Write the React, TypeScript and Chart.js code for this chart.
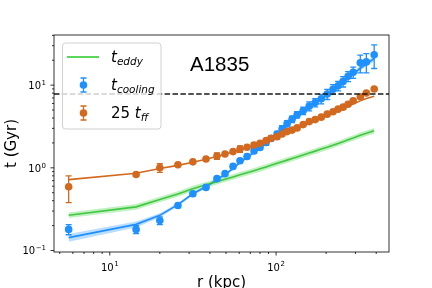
import React, { useEffect, useRef } from "react";
import { Chart, registerables } from "chart.js";

Chart.register(...registerables);

// ---- data ----
const radii = [5.66, 14.4, 20.0, 25.7, 31.6, 37.9, 44.1, 49.3, 55.1, 60.7, 66.9, 73.7, 80.1, 87.1, 93.3, 101.4, 108.7, 116.5, 124.8, 133.8, 145.5, 158.2, 171.9, 186.9, 203, 220, 236, 253, 271, 291, 321, 349, 389];

const tCooling = [0.18, 0.18, 0.23, 0.35, 0.485, 0.58, 0.74, 0.85, 1.04, 1.22, 1.37, 1.6, 1.76, 2.02, 2.26, 2.56, 2.94, 3.42, 3.88, 4.39, 4.91, 5.57, 6.17, 6.85, 7.8, 8.93, 9.83, 11.1, 12.8, 14.3, 18.6, 19.1, 23.3];
const tCoolingErr = [0.025, 0.02, 0.025, 0.02, 0.03, 0.03, 0.04, 0.04, 0.06, 0.07, 0.08, 0.1, 0.1, 0.15, 0.15, 0.2, 0.3, 0.3, 0.35, 0.4, 0.5, 0.7, 0.7, 0.9, 1.1, 1.2, 1.3, 1.6, 1.8, 2.2, 4.5, 5, 7.4];

const tFF25 = [0.59, 0.83, 1.0, 1.09, 1.18, 1.28, 1.39, 1.47, 1.57, 1.69, 1.77, 1.89, 1.98, 2.13, 2.28, 2.38, 2.56, 2.74, 2.86, 3.04, 3.33, 3.62, 3.83, 4.1, 4.46, 4.77, 5.12, 5.42, 5.88, 6.48, 7.25, 8.03, 8.98];
const tFF25Err = [0.21, 0.03, 0.12, 0.04, 0.04, 0.04, 0.12, 0.04, 0.05, 0.15, 0.06, 0.12, 0.07, 0.08, 0.09, 0.15, 0.1, 0.1, 0.11, 0.2, 0.13, 0.14, 0.15, 0.16, 0.18, 0.19, 0.2, 0.22, 0.24, 0.26, 0.3, 0.32, 0.35];

const coolModel = [0.143, 0.207, 0.266, 0.358, 0.485, 0.59, 0.72, 0.83, 0.98, 1.16, 1.34, 1.54, 1.74, 1.97, 2.2, 2.5, 2.85, 3.25, 3.7, 4.15, 4.7, 5.3, 6.0, 6.8, 7.7, 8.8, 9.8, 10.9, 12.2, 13.6, 16.0, 18.0, 21.0];
const coolBandLo = [0.128, 0.19, 0.25, 0.342, 0.465, 0.565, 0.69, 0.795, 0.94, 1.11, 1.28, 1.47, 1.66, 1.88, 2.1, 2.39, 2.72, 3.1, 3.53, 3.96, 4.48, 5.05, 5.72, 6.48, 7.33, 8.37, 9.32, 10.35, 11.55, 12.85, 15.0, 16.8, 19.4];
const coolBandHi = [0.158, 0.224, 0.283, 0.375, 0.505, 0.615, 0.75, 0.865, 1.02, 1.21, 1.4, 1.61, 1.82, 2.06, 2.3, 2.61, 2.98, 3.4, 3.87, 4.34, 4.92, 5.56, 6.3, 7.13, 8.08, 9.25, 10.3, 11.5, 12.9, 14.4, 17.1, 19.3, 22.7];

const eddyModel = [0.267, 0.337, 0.414, 0.482, 0.56, 0.623, 0.681, 0.728, 0.776, 0.823, 0.87, 0.922, 0.972, 1.025, 1.072, 1.133, 1.185, 1.239, 1.296, 1.355, 1.432, 1.51, 1.592, 1.684, 1.775, 1.877, 1.968, 2.07, 2.18, 2.29, 2.47, 2.62, 2.8];
const eddyBandLo = [0.247, 0.312, 0.383, 0.446, 0.518, 0.576, 0.63, 0.673, 0.718, 0.761, 0.805, 0.853, 0.899, 0.948, 0.992, 1.048, 1.096, 1.146, 1.199, 1.253, 1.325, 1.397, 1.473, 1.558, 1.642, 1.736, 1.82, 1.915, 2.017, 2.118, 2.285, 2.424, 2.59];
const eddyBandHi = [0.288, 0.364, 0.447, 0.521, 0.605, 0.673, 0.735, 0.786, 0.838, 0.889, 0.94, 0.996, 1.05, 1.107, 1.158, 1.224, 1.28, 1.338, 1.4, 1.463, 1.547, 1.631, 1.719, 1.819, 1.917, 2.027, 2.125, 2.236, 2.354, 2.473, 2.668, 2.83, 3.024];

const ffModel = [0.72, 0.86, 0.98, 1.07, 1.17, 1.27, 1.37, 1.46, 1.56, 1.66, 1.76, 1.87, 1.98, 2.1, 2.22, 2.36, 2.5, 2.65, 2.8, 2.98, 3.2, 3.45, 3.7, 3.98, 4.3, 4.62, 4.92, 5.24, 5.58, 5.92, 6.45, 6.9, 7.35];

const dashedLevel = 7.8;
const titleText = "A1835";

const xMajorTicks = [10, 100];
const xMajorExp = ["1", "2"];
const xMinorTicks = [5, 6, 7, 8, 9, 20, 30, 40, 50, 60, 70, 80, 90, 200, 300, 400];
const yMajorTicks = [0.1, 1, 10];
const yMajorExp = ["\u22121", "0", "1"];
const yMinorTicks = [0.2, 0.3, 0.4, 0.5, 0.6, 0.7, 0.8, 0.9, 2, 3, 4, 5, 6, 7, 8, 9, 20, 30, 40];

const BLUE = "#1E90FF";
const ORANGE = "#D2691E";
const GREEN = "rgba(50,195,50,0.9)";
const GREEN_LEGEND = "rgba(50,205,50,0.8)";
const FONT = '"DejaVu Sans", sans-serif';

function drawErrBar(ctx: CanvasRenderingContext2D, x: number, y1: number, y2: number, color: string) {
  ctx.strokeStyle = color;
  ctx.lineWidth = 1.3;
  ctx.beginPath();
  ctx.moveTo(x, y1); ctx.lineTo(x, y2);
  ctx.moveTo(x - 3, y1); ctx.lineTo(x + 3, y1);
  ctx.moveTo(x - 3, y2); ctx.lineTo(x + 3, y2);
  ctx.stroke();
}

const errorBarPlugin = {
  id: "errbars",
  beforeDatasetDraw(chart: any, args: any) {
    const ds = chart.data.datasets[args.index];
    if (!ds.errValues) return;
    const ctx = chart.ctx;
    const xs = chart.scales.x, ys = chart.scales.y;
    ctx.save();
    ds.data.forEach((p: any, i: number) => {
      const e = ds.errValues[i];
      const px = xs.getPixelForValue(p.x);
      const lo = Math.max(p.y - e, 0.05);
      drawErrBar(ctx, px, ys.getPixelForValue(p.y + e), ys.getPixelForValue(lo), ds.pointBackgroundColor);
    });
    ctx.restore();
  },
};

function drawPow(ctx: CanvasRenderingContext2D, exp: string, x: number, y: number, align: "center" | "right") {
  ctx.font = `10px ${FONT}`;
  const w1 = ctx.measureText("10").width;
  ctx.font = `7px ${FONT}`;
  const w2 = ctx.measureText(exp).width;
  const total = w1 + w2 + 0.5;
  const left = align === "center" ? x - total / 2 : x - total;
  ctx.textAlign = "left";
  ctx.textBaseline = "alphabetic";
  ctx.font = `10px ${FONT}`;
  ctx.fillText("10", left, y);
  ctx.font = `7px ${FONT}`;
  ctx.fillText(exp, left + w1 + 0.5, y - 4.3);
}

function drawSubText(ctx: CanvasRenderingContext2D, x: number, y: number, pre: string, main: string, sub: string) {
  ctx.textAlign = "left";
  ctx.textBaseline = "alphabetic";
  let cx = x;
  if (pre) {
    ctx.font = `15px ${FONT}`;
    ctx.fillText(pre, cx, y);
    cx += ctx.measureText(pre).width;
  }
  ctx.font = `italic 15px ${FONT}`;
  ctx.fillText(main, cx, y);
  cx += ctx.measureText(main).width;
  ctx.font = `italic 10.5px ${FONT}`;
  ctx.fillText(sub, cx, y + 3.3);
}

const decorPlugin = {
  id: "decor",
  afterDatasetsDraw(chart: any) {
    const { ctx, chartArea: ca, scales } = chart;
    const ys = scales.y;
    ctx.save();
    // dashed horizontal line
    const yd = ys.getPixelForValue(dashedLevel);
    ctx.strokeStyle = "#1a1a1a";
    ctx.lineWidth = 1.6;
    ctx.setLineDash([5.5, 2.4]);
    ctx.beginPath();
    ctx.moveTo(ca.left, yd);
    ctx.lineTo(ca.right, yd);
    ctx.stroke();
    ctx.setLineDash([]);

    // legend box
    const bx = 62.5, by = 43, bw = 98.5, bh = 86, r = 3;
    ctx.beginPath();
    ctx.moveTo(bx + r, by);
    ctx.lineTo(bx + bw - r, by);
    ctx.quadraticCurveTo(bx + bw, by, bx + bw, by + r);
    ctx.lineTo(bx + bw, by + bh - r);
    ctx.quadraticCurveTo(bx + bw, by + bh, bx + bw - r, by + bh);
    ctx.lineTo(bx + r, by + bh);
    ctx.quadraticCurveTo(bx, by + bh, bx, by + bh - r);
    ctx.lineTo(bx, by + r);
    ctx.quadraticCurveTo(bx, by, bx + r, by);
    ctx.closePath();
    ctx.fillStyle = "rgba(255,255,255,0.8)";
    ctx.fill();
    ctx.strokeStyle = "#d0d0d0";
    ctx.lineWidth = 1;
    ctx.stroke();

    // entry 1: green line
    ctx.strokeStyle = GREEN_LEGEND;
    ctx.lineWidth = 2;
    ctx.beginPath();
    ctx.moveTo(67, 57);
    ctx.lineTo(99, 57);
    ctx.stroke();
    // entry 2: blue marker with error bar
    drawErrBar(ctx, 83.5, 78, 92, BLUE);
    ctx.fillStyle = BLUE;
    ctx.beginPath(); ctx.arc(83.5, 85, 3.8, 0, Math.PI * 2); ctx.fill();
    // entry 3: orange marker
    drawErrBar(ctx, 83.5, 106, 120, ORANGE);
    ctx.fillStyle = ORANGE;
    ctx.beginPath(); ctx.arc(83.5, 113, 3.8, 0, Math.PI * 2); ctx.fill();

    ctx.fillStyle = "#000";
    drawSubText(ctx, 111, 62, "", "t", "eddy");
    drawSubText(ctx, 111, 90, "", "t", "cooling");
    drawSubText(ctx, 111, 118, "25 ", "t", "ff");

    // title text
    ctx.font = `20.5px "Liberation Sans", Arial, sans-serif`;
    ctx.textAlign = "left";
    ctx.textBaseline = "alphabetic";
    ctx.fillText(titleText, 190, 71);
    ctx.restore();
  },
  afterDraw(chart: any) {
    const { ctx, chartArea: ca, scales } = chart;
    const xs = scales.x, ys = scales.y;
    ctx.save();
    ctx.strokeStyle = "#000";
    ctx.lineWidth = 0.8;
    ctx.strokeRect(ca.left, ca.top, ca.right - ca.left, ca.bottom - ca.top);
    ctx.beginPath();
    xMinorTicks.forEach((v) => {
      const p = xs.getPixelForValue(v);
      ctx.moveTo(p, ca.bottom); ctx.lineTo(p, ca.bottom + 2);
    });
    xMajorTicks.forEach((v) => {
      const p = xs.getPixelForValue(v);
      ctx.moveTo(p, ca.bottom); ctx.lineTo(p, ca.bottom + 3.5);
    });
    yMinorTicks.forEach((v) => {
      const p = ys.getPixelForValue(v);
      ctx.moveTo(ca.left, p); ctx.lineTo(ca.left - 2, p);
    });
    yMajorTicks.forEach((v) => {
      const p = ys.getPixelForValue(v);
      ctx.moveTo(ca.left, p); ctx.lineTo(ca.left - 3.5, p);
    });
    ctx.stroke();

    ctx.fillStyle = "#000";
    xMajorTicks.forEach((v, i) => {
      drawPow(ctx, xMajorExp[i], xs.getPixelForValue(v), 270.5, "center");
    });
    yMajorTicks.forEach((v, i) => {
      drawPow(ctx, yMajorExp[i], 46, ys.getPixelForValue(v) + 4, "right");
    });

    // axis labels
    ctx.font = `15px ${FONT}`;
    ctx.textAlign = "center";
    ctx.textBaseline = "alphabetic";
    ctx.fillText("r (kpc)", (ca.left + ca.right) / 2, 287);
    ctx.save();
    ctx.translate(16, (ca.top + ca.bottom) / 2);
    ctx.rotate(-Math.PI / 2);
    ctx.fillText("t (Gyr)", 0, 0);
    ctx.restore();
    ctx.restore();
  },
};

export default function App() {
  const ref = useRef<HTMLCanvasElement>(null);
  useEffect(() => {
    const canvas = ref.current;
    if (!canvas) return;
    const pts = (ys: number[]) => radii.map((r, i) => ({ x: r, y: ys[i] }));
    const band = (lo: number[], hi: number[], color: string) => [
      { data: pts(lo), borderColor: "transparent", borderWidth: 0, pointRadius: 0, fill: false, order: 10 },
      { data: pts(hi), borderColor: "transparent", borderWidth: 0, pointRadius: 0, fill: "-1", backgroundColor: color, order: 10 },
    ];
    const chart = new Chart(canvas, {
      type: "line",
      data: {
        datasets: [
          ...band(coolBandLo, coolBandHi, "rgba(30,144,255,0.3)"),
          ...band(eddyBandLo, eddyBandHi, "rgba(50,205,50,0.3)"),
          { data: pts(eddyModel), borderColor: GREEN, borderWidth: 1.6, pointRadius: 0, fill: false, order: 5 },
          { data: pts(coolModel), borderColor: BLUE, borderWidth: 1.6, pointRadius: 0, fill: false, order: 5 },
          { data: pts(ffModel), borderColor: ORANGE, borderWidth: 1.6, pointRadius: 0, fill: false, order: 5 },
          {
            data: pts(tCooling), showLine: false, pointRadius: 3.8, pointBorderWidth: 0,
            pointBackgroundColor: BLUE, borderColor: BLUE, errValues: tCoolingErr, order: 2,
          } as any,
          {
            data: pts(tFF25), showLine: false, pointRadius: 3.8, pointBorderWidth: 0,
            pointBackgroundColor: ORANGE, borderColor: ORANGE, errValues: tFF25Err, order: 1,
          } as any,
        ],
      },
      options: {
        responsive: false,
        maintainAspectRatio: false,
        devicePixelRatio: 1,
        animation: false,
        layout: { padding: { left: 54, right: 43, top: 35, bottom: 36 } },
        elements: { line: { tension: 0 } },
        scales: {
          x: { type: "logarithmic", min: 4.62, max: 477.6, display: false, bounds: "data" },
          y: { type: "logarithmic", min: 0.0959, max: 40.4, display: false, bounds: "data" },
        },
        plugins: { legend: { display: false }, tooltip: { enabled: false }, title: { display: false } },
      },
      plugins: [errorBarPlugin, decorPlugin],
    });
    return () => chart.destroy();
  }, []);
  return (
    <div style={{ position: "fixed", left: 0, top: 0, width: 432, height: 288, background: "#fff" }}>
      <canvas ref={ref} width={432} height={288} style={{ display: "block", width: 432, height: 288 }} />
    </div>
  );
}
